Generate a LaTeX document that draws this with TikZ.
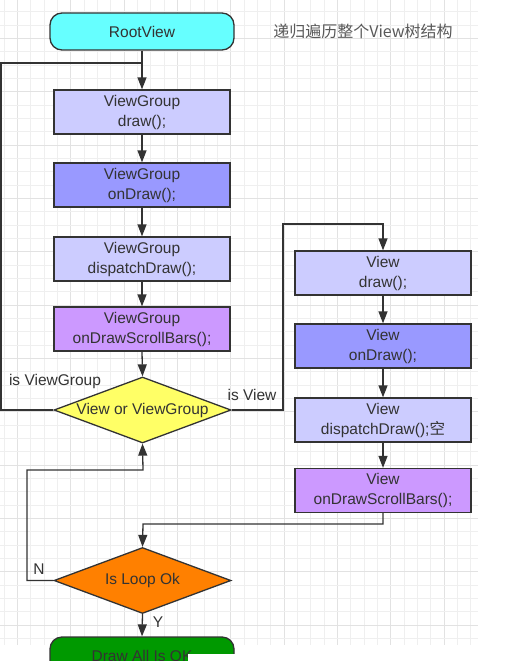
\documentclass[tikz,border=0pt]{standalone}
\usepackage{fontspec}
\setmainfont{Liberation Sans}
\newfontfamily\cjk{Noto Sans CJK SC}
\usetikzlibrary{arrows.meta,shapes.geometric}
\definecolor{txt}{HTML}{333333}
\definecolor{edge}{HTML}{333333}
\definecolor{cyanf}{HTML}{66FFFF}
\definecolor{lav}{HTML}{CCCCFF}
\definecolor{blu}{HTML}{9999FF}
\definecolor{pur}{HTML}{CC99FF}
\definecolor{yel}{HTML}{FFFF66}
\definecolor{ora}{HTML}{FF8000}
\definecolor{grn}{HTML}{009900}
\definecolor{gridminor}{HTML}{EFEFEF}
\definecolor{gridmajor}{HTML}{E2E2E2}
\begin{document}
\begin{tikzpicture}[x=1pt,y=-1pt,
  every node/.style={text=txt, font=\fontsize{15.5}{20}\selectfont, align=center},
  box/.style={draw=edge, line width=1.3pt, minimum width=176pt, minimum height=44pt, inner sep=0pt},
  term/.style={box, rounded corners=12pt, minimum width=184pt, minimum height=37pt},
  dec/.style={diamond, draw=edge, line width=1.3pt, aspect=2.68, minimum width=177pt, minimum height=66pt, inner sep=0pt},
  conn/.style={draw=edge, line width=1.3pt},
  arr/.style={conn, -{Triangle[length=12pt,width=9pt]}},
  lbl/.style={text=txt, inner sep=0pt}
]
\useasboundingbox[fill=white] (0,0) rectangle (518,661);
% grid
\foreach \i in {0,...,35} {
  \pgfmathtruncatemacro{\m}{mod(\i,4)}
  \ifnum\m=1 \def\gc{gridmajor}\else\def\gc{gridminor}\fi
  \draw[\gc, line width=0.6pt] ({4+\i*13.333},0) -- ({4+\i*13.333},645);
}
\foreach \i in {0,...,47} {
  \pgfmathtruncatemacro{\m}{mod(\i,4)}
  \ifnum\m=2 \def\gc{gridmajor}\else\def\gc{gridminor}\fi
  \draw[\gc, line width=0.6pt] (0,{11.7+\i*13.333}) -- (478,{11.7+\i*13.333});
}
% nodes
\node[term, fill=cyanf] (root) at (142,31.5) {RootView};
\node[lbl, text=black!65, font=\cjk\fontsize{16}{18}\selectfont] (title) at (363,31) {递归遍历整个View树结构};
\node[box, fill=lav] (vgdraw) at (142,112) {ViewGroup\\draw();};
\node[box, fill=blu] (vgon) at (142,185) {ViewGroup\\onDraw();};
\node[box, fill=lav] (vgdisp) at (142,259) {ViewGroup\\dispatchDraw();};
\node[box, fill=pur] (vgsb) at (142,329) {ViewGroup\\onDrawScrollBars();};
\node[dec, fill=yel] (vgo) at (142.5,410) {View or ViewGroup};
\node[box, fill=lav] (vdraw) at (383,273) {View\\draw();};
\node[box, fill=blu] (von) at (383,346) {View\\onDraw();};
\node[box, fill=lav] (vdisp) at (383,420) {View\\dispatchDraw();\cjk 空};
\node[box, fill=pur] (vsb) at (383,490.5) {View\\onDrawScrollBars();};
\node[dec, fill=ora] (loop) at (142.5,580.5) {Is Loop Ok};
\node[term, fill=grn] (done) at (142,655.5) {Draw All Is OK};
% labels
\node[lbl] (lvg) at (55,381) {is ViewGroup};
\node[lbl] (lv) at (252,395) {is View};
\node[lbl] (ln) at (39,569) {N};
\node[lbl] (ly) at (158,622) {Y};
% helper coordinates
\coordinate (jtop) at (143,63);
\coordinate (ltop) at (1,63);
\coordinate (rmid) at (283,410);
\coordinate (rtop) at (283,224);
\coordinate (vtop) at (383,224);
\coordinate (vbot) at (383,524);
\coordinate (lbot) at (143,524);
\coordinate (nl) at (27,580.5);
\coordinate (nt) at (27,470);
\coordinate (nj) at (143,470);
% connectors
\draw[arr] (root.south) -- (vgdraw.north);
\draw[conn] (vgo.west) -- (vgo.west -| ltop) -- (ltop) -- (jtop);
\draw[arr] (vgdraw) -- (vgon);
\draw[arr] (vgon) -- (vgdisp);
\draw[arr] (vgdisp) -- (vgsb);
\draw[arr] (vgsb.south) -- (vgo.north);
\draw[arr] (vgo.east) -- (rmid) -- (rtop) -- (vtop) -- (vdraw.north);
\draw[arr] (vdraw) -- (von);
\draw[arr] (von) -- (vdisp);
\draw[arr] (vdisp) -- (vsb);
\draw[arr] (vsb.south) -- (vbot) -- (lbot) -- (loop.north);
\draw[arr] (loop.west) -- (nl) -- (nt) -- (nj) -- (vgo.south);
\draw[arr] (loop.south) -- (done.north);
% bottom white patch
\fill[white] (188,654) rectangle (518,661);
\fill[white] (478,0) rectangle (518,661);
\end{tikzpicture}
\end{document}
